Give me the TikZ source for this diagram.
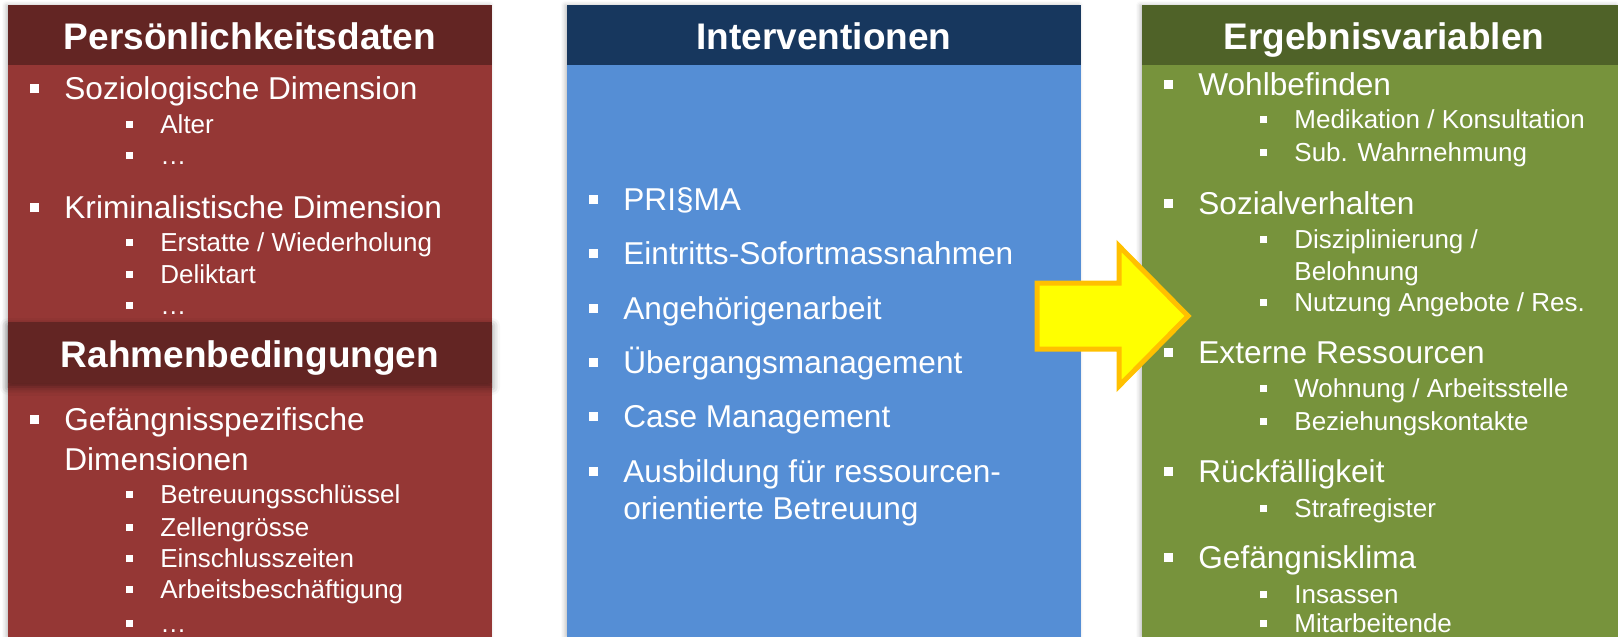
\documentclass[tikz,border=0pt]{standalone}
\usepackage{fontspec}
\setmainfont{Liberation Sans}
\usetikzlibrary{shadows.blur}
\definecolor{redbody}{HTML}{953735}
\definecolor{redhead}{HTML}{632523}
\definecolor{bluebody}{HTML}{558ED5}
\definecolor{bluehead}{HTML}{17375E}
\definecolor{greenbody}{HTML}{77933C}
\definecolor{greenhead}{HTML}{4F6228}
\definecolor{arrowfill}{HTML}{FFFF00}
\definecolor{arrowline}{HTML}{FFC000}
\newcommand{\bulA}{\llap{\rule[3pt]{4.6pt}{4.6pt}\hspace{12.5pt}}}
\newcommand{\bulB}{\llap{\rule[2.5pt]{3.6pt}{3.6pt}\hspace{13.5pt}}}
\tikzset{
  panel/.style={draw=none},
  headtxt/.style={text=white,font=\fontsize{18.5pt}{20pt}\selectfont\bfseries,inner sep=0pt,anchor=base},
  lA/.style={text=white,font=\fontsize{15.8pt}{18pt}\selectfont,inner sep=0pt,anchor=base west},
  lB/.style={text=white,font=\fontsize{13pt}{15pt}\selectfont,inner sep=0pt,anchor=base west},
}
\begin{document}
\begin{tikzpicture}[x=0.5pt,y=-0.5pt]
\useasboundingbox (0,0) rectangle (1618,637);
% left panel
\fill[redbody, blur shadow={shadow xshift=-1pt,shadow yshift=0pt,shadow blur radius=2pt,shadow opacity=25}] (8,5) rectangle (492,637);
\fill[redhead] (8,5) rectangle (492,65);
\node[headtxt] (h1) at (250,49) {Persönlichkeitsdaten};
\node[lA] (a1) at (64,99) {\bulA Soziologische Dimension};
\node[lB] (a2) at (160,133) {\bulB Alter};
\node[lB] (a3) at (160,164) {\bulB …};
\node[lA] (a4) at (64,218) {\bulA Kriminalistische Dimension};
\node[lB] (a5) at (160,251) {\bulB Erstatte / Wiederholung};
\node[lB] (a6) at (160,283) {\bulB Deliktart};
\node[lB] (a7) at (160,314) {\bulB …};
\fill[redhead, blur shadow={shadow xshift=0pt,shadow yshift=-2pt,shadow blur radius=4pt,shadow opacity=45}] (8,322) rectangle (492,383);
\node[headtxt] (h2) at (250,367) {Rahmenbedingungen};
\node[lA] (b1) at (64,430) {\bulA Gefängnisspezifische};
\node[lA] (b1b) at (64,470) {Dimensionen};
\node[lB] (b2) at (160,503) {\bulB Betreuungsschlüssel};
\node[lB] (b3) at (160,536) {\bulB Zellengrösse};
\node[lB] (b4) at (160,567) {\bulB Einschlusszeiten};
\node[lB] (b5) at (160,598) {\bulB Arbeitsbeschäftigung};
\node[lB] (b6) at (160,632) {\bulB …};
% middle panel
\fill[bluebody, blur shadow={shadow xshift=-1pt,shadow yshift=0pt,shadow blur radius=2pt,shadow opacity=25}] (567,5) rectangle (1081,637);
\fill[bluehead] (567,5) rectangle (1081,65);
\node[headtxt] (h3) at (824,49) {Interventionen};
\node[lA] (m1) at (623,210) {\bulA PRI§MA};
\node[lA] (m2) at (623,264) {\bulA Eintritts-Sofortmassnahmen};
\node[lA] (m3) at (623,319) {\bulA Angehörigenarbeit};
\node[lA] (m4) at (623,373) {\bulA Übergangsmanagement};
\node[lA] (m5) at (623,427) {\bulA Case Management};
\node[lA] (m6) at (623,482) {\bulA Ausbildung für ressourcen-};
\node[lA] (m6b) at (623,519) {orientierte Betreuung};
% right panel
\fill[greenbody, blur shadow={shadow xshift=-1pt,shadow yshift=0pt,shadow blur radius=2pt,shadow opacity=25}] (1142,5) rectangle (1618,637);
\fill[greenhead] (1142,5) rectangle (1618,65);
\node[headtxt] (h4) at (1384,49) {Ergebnisvariablen};
\node[lA] (r1) at (1198,95) {\bulA Wohlbefinden};
\node[lB] (r2) at (1294,128) {\bulB Medikation / Konsultation};
\node[lB] (r3) at (1294,161) {\bulB Sub. Wahrnehmung};
\node[lA] (r4) at (1198,214) {\bulA Sozialverhalten};
\node[lB] (r5) at (1294,248) {\bulB Disziplinierung /};
\node[lB] (r5b) at (1294,280) {Belohnung};
\node[lB] (r6) at (1294,311) {\bulB Nutzung Angebote / Res.};
\node[lA] (r7) at (1198,363) {\bulA Externe Ressourcen};
\node[lB] (r8) at (1294,397) {\bulB Wohnung / Arbeitsstelle};
\node[lB] (r9) at (1294,430) {\bulB Beziehungskontakte};
\node[lA] (r10) at (1198,482) {\bulA Rückfälligkeit};
\node[lB] (r11) at (1294,517) {\bulB Strafregister};
\node[lA] (r12) at (1198,568) {\bulA Gefängnisklima};
\node[lB] (r13) at (1294,603) {\bulB Insassen};
\node[lB] (r14) at (1294,632) {\bulB Mitarbeitende};
% arrow
\draw[fill=arrowfill, draw=arrowline, line width=2.5pt, line join=miter]
  (1037,283) -- (1119,283) -- (1119,246) -- (1188,316) -- (1119,386) -- (1119,349) -- (1037,349) -- cycle;
\end{tikzpicture}
\end{document}
